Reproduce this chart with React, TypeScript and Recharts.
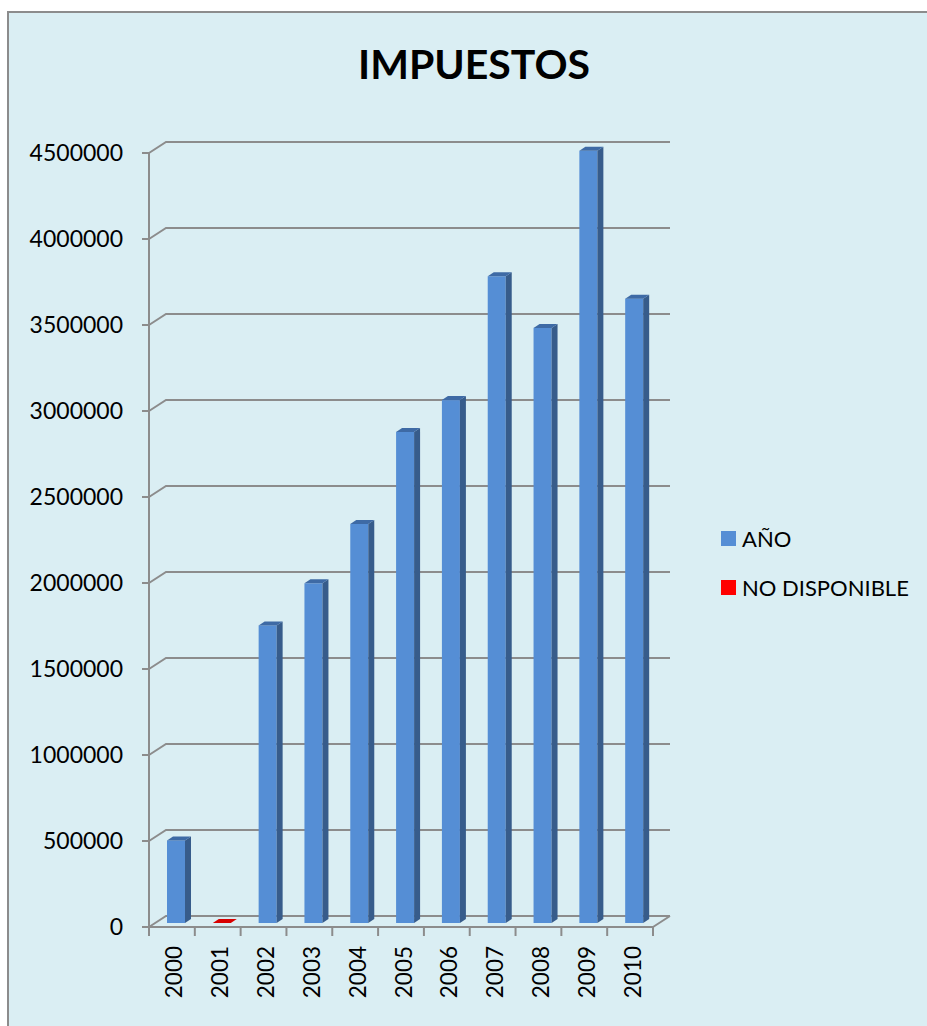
import React from "react";
import { Bar, BarChart, CartesianGrid, Legend, XAxis, YAxis } from "recharts";

const YEARS = ["2000", "2001", "2002", "2003", "2004", "2005", "2006", "2007", "2008", "2009", "2010"];
const ANO = [480000, null, 1730000, 1975000, 2320000, 2855000, 3040000, 3760000, 3460000, 4490000, 3630000];
const NO_DISPONIBLE = [null, 0, null, null, null, null, null, null, null, null, null];
const Y_TICKS = [0, 500000, 1000000, 1500000, 2000000, 2500000, 3000000, 3500000, 4000000, 4500000];

const data = YEARS.map((year, i) => ({ year, ano: ANO[i], nd: NO_DISPONIBLE[i] }));

const GRAY = "#8c8c8c";
const FONT = "Lato, 'Open Sans', sans-serif";
const BLUE = { front: "#558ed5", side: "#375c8b", top: "#3e6aa5" };
const RED = { front: "#e00000", side: "#a00000", top: "#d80000" };

// depth of the bar boxes and of the back wall
const BAR_DX = 6;
const BAR_DY = 4;
const SHIFT_X = 4;
const SHIFT_Y = 4;
const WALL_DX = 17;
const WALL_DY = 11;

function Bar3D(props: any) {
  const { x, y, width, height, payload, k, colors } = props;
  if (payload == null || payload[k] == null) return <g />;
  const xl = x + SHIFT_X;
  const xr = xl + width;
  const yt = y - SHIFT_Y;
  const yb = yt + height;
  return (
    <g>
      {height > 0 && <rect x={xl} y={yt} width={width} height={height} fill={colors.front} />}
      {height > 0 && (
        <polygon
          points={`${xr},${yt} ${xr + BAR_DX},${yt - BAR_DY} ${xr + BAR_DX},${yb - BAR_DY} ${xr},${yb}`}
          fill={colors.side}
        />
      )}
      <polygon
        points={`${xl},${yt} ${xl + BAR_DX},${yt - BAR_DY} ${xr + BAR_DX},${yt - BAR_DY} ${xr},${yt}`}
        fill={colors.top}
      />
    </g>
  );
}

function GridLine(p: any) {
  const { x1, y1, x2 } = p;
  const bottom = typeof p.y === "number" && typeof p.height === "number" ? p.y + p.height : null;
  let d = `M ${x1} ${y1} L ${x1 + WALL_DX} ${y1 - WALL_DY} L ${x2 + WALL_DX} ${y1 - WALL_DY}`;
  if (bottom != null && Math.abs(y1 - bottom) < 1) {
    d += ` M ${x2} ${y1} L ${x2 + WALL_DX} ${y1 - WALL_DY}`;
  }
  return <path key={p.key} d={d} stroke={GRAY} strokeWidth={2} fill="none" />;
}

function YearTick(props: any) {
  const { x, y, payload, index } = props;
  const half = payload && payload.offset ? payload.offset : 504 / YEARS.length / 2;
  const last = index === YEARS.length - 1;
  return (
    <g>
      <line x1={x - half} y1={y - 8} x2={x - half} y2={y + 1} stroke={GRAY} strokeWidth={2} />
      {last && <line x1={x + half} y1={y - 8} x2={x + half} y2={y + 1} stroke={GRAY} strokeWidth={2} />}
      <text
        transform={`translate(${x + 2},${y + 11}) rotate(-90)`}
        textAnchor="end"
        dominantBaseline="central"
        fontSize={22.5}
        fontFamily={FONT}
        fill="#000"
      >
        {payload.value}
      </text>
    </g>
  );
}

function LegendBox() {
  const items = [
    { label: "AÑO", color: BLUE.front },
    { label: "NO DISPONIBLE", color: "#ff0000" },
  ];
  return (
    <div style={{ fontFamily: FONT, fontSize: 22, color: "#000" }}>
      {items.map((it) => (
        <div key={it.label} style={{ display: "flex", alignItems: "center", height: 49 }}>
          <span style={{ width: 15, height: 15, background: it.color, marginRight: 6, display: "inline-block" }} />
          <span>{it.label}</span>
        </div>
      ))}
    </div>
  );
}

export default function App() {
  return (
    <div style={{ position: "absolute", left: 0, top: 0, width: 927, height: 1026, background: "#fff", overflow: "hidden" }}>
      <div
        style={{
          position: "absolute",
          left: 7,
          top: 11,
          width: 960,
          height: 1040,
          border: `2px solid ${GRAY}`,
          background: "#daeef3",
        }}
      />
      <div
        style={{
          position: "absolute",
          left: 0,
          top: 36,
          width: 948,
          textAlign: "center",
          fontFamily: FONT,
          fontWeight: 700,
          fontSize: 41,
          color: "#000",
          lineHeight: "56px",
        }}
      >
        IMPUESTOS
      </div>
      <div style={{ position: "absolute", left: 0, top: 0 }}>
        <BarChart
          width={927}
          height={1026}
          data={data}
          margin={{ top: 153, right: 274, bottom: 0, left: 0 }}
          barSize={18}
        >
          <CartesianGrid vertical={false} horizontal={GridLine} />
          <XAxis
            dataKey="year"
            interval={0}
            height={99}
            axisLine={{ stroke: GRAY, strokeWidth: 2 }}
            tickLine={false}
            tick={<YearTick />}
          />
          <YAxis
            width={149}
            domain={[0, 4500000]}
            ticks={Y_TICKS}
            interval={0}
            axisLine={{ stroke: GRAY, strokeWidth: 2 }}
            tickLine={{ stroke: GRAY, strokeWidth: 2 }}
            tickSize={7}
            tickMargin={19}
            tick={{ fill: "#000", fontSize: 23, fontFamily: FONT }}
          />
          <Legend
            layout="vertical"
            align="center"
            verticalAlign="middle"
            wrapperStyle={{ left: 721, top: 514, width: 206 }}
            content={<LegendBox />}
          />
          <Bar
            dataKey="ano"
            name="AÑO"
            stackId="a"
            fill={BLUE.front}
            isAnimationActive={false}
            shape={(p: any) => <Bar3D {...p} k="ano" colors={BLUE} />}
          />
          <Bar
            dataKey="nd"
            name="NO DISPONIBLE"
            stackId="a"
            fill={RED.top}
            isAnimationActive={false}
            shape={(p: any) => <Bar3D {...p} k="nd" colors={RED} />}
          />
        </BarChart>
      </div>
    </div>
  );
}
